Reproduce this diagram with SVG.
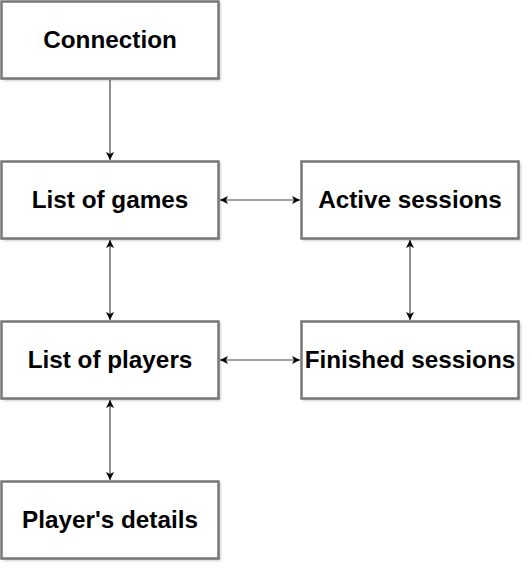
<svg xmlns="http://www.w3.org/2000/svg" width="532" height="572" viewBox="0 0 532 572">
<style>
.box{fill:#fff;stroke:#777;stroke-width:2.5}
.shadow{fill:#000;opacity:0.18}
.lbl{font-family:"Liberation Sans",Arial,sans-serif;font-weight:bold;font-size:24.3px;fill:#000;text-anchor:middle}
.edge{stroke:#444;stroke-width:1.2;fill:none}
</style>
<defs>
<filter id="blur" x="-10%" y="-10%" width="120%" height="130%"><feGaussianBlur stdDeviation="1.2"/></filter>
<marker id="ah" viewBox="0 0 10 10" refX="10" refY="5" markerWidth="8" markerHeight="8" markerUnits="userSpaceOnUse" orient="auto-start-reverse">
<path d="M0,0 L10,5 L0,10 L2.5,5 Z" fill="#000"/>
</marker>
</defs>
<rect width="532" height="572" fill="#fff"/>
<g id="connectors">
<line class="edge" x1="110" y1="80" x2="110" y2="160" marker-end="url(#ah)"/>
<line class="edge" x1="110" y1="240" x2="110" y2="320" marker-start="url(#ah)" marker-end="url(#ah)"/>
<line class="edge" x1="110" y1="400" x2="110" y2="480" marker-start="url(#ah)" marker-end="url(#ah)"/>
<line class="edge" x1="220" y1="200" x2="300" y2="200" marker-start="url(#ah)" marker-end="url(#ah)"/>
<line class="edge" x1="220" y1="360" x2="300" y2="360" marker-start="url(#ah)" marker-end="url(#ah)"/>
<line class="edge" x1="410" y1="240" x2="410" y2="320" marker-start="url(#ah)" marker-end="url(#ah)"/>
</g>
<g id="connection">
<rect class="shadow" x="3" y="3" width="218" height="78" filter="url(#blur)"/>
<rect class="box" x="1.5" y="1.5" width="217" height="77"/>
<text class="lbl" x="110" y="48">Connection</text>
</g>
<g id="list-of-games">
<rect class="shadow" x="3" y="163" width="218" height="78" filter="url(#blur)"/>
<rect class="box" x="1.5" y="161.5" width="217" height="77"/>
<text class="lbl" x="110" y="208">List of games</text>
</g>
<g id="active-sessions">
<rect class="shadow" x="303" y="163" width="218" height="78" filter="url(#blur)"/>
<rect class="box" x="301.5" y="161.5" width="217" height="77"/>
<text class="lbl" x="410" y="208">Active sessions</text>
</g>
<g id="list-of-players">
<rect class="shadow" x="3" y="323" width="218" height="78" filter="url(#blur)"/>
<rect class="box" x="1.5" y="321.5" width="217" height="77"/>
<text class="lbl" x="110" y="368">List of players</text>
</g>
<g id="finished-sessions">
<rect class="shadow" x="303" y="323" width="218" height="78" filter="url(#blur)"/>
<rect class="box" x="301.5" y="321.5" width="217" height="77"/>
<text class="lbl" x="410" y="368">Finished sessions</text>
</g>
<g id="players-details">
<rect class="shadow" x="3" y="483" width="218" height="78" filter="url(#blur)"/>
<rect class="box" x="1.5" y="481.5" width="217" height="77"/>
<text class="lbl" x="110" y="528">Player's details</text>
</g>
</svg>
